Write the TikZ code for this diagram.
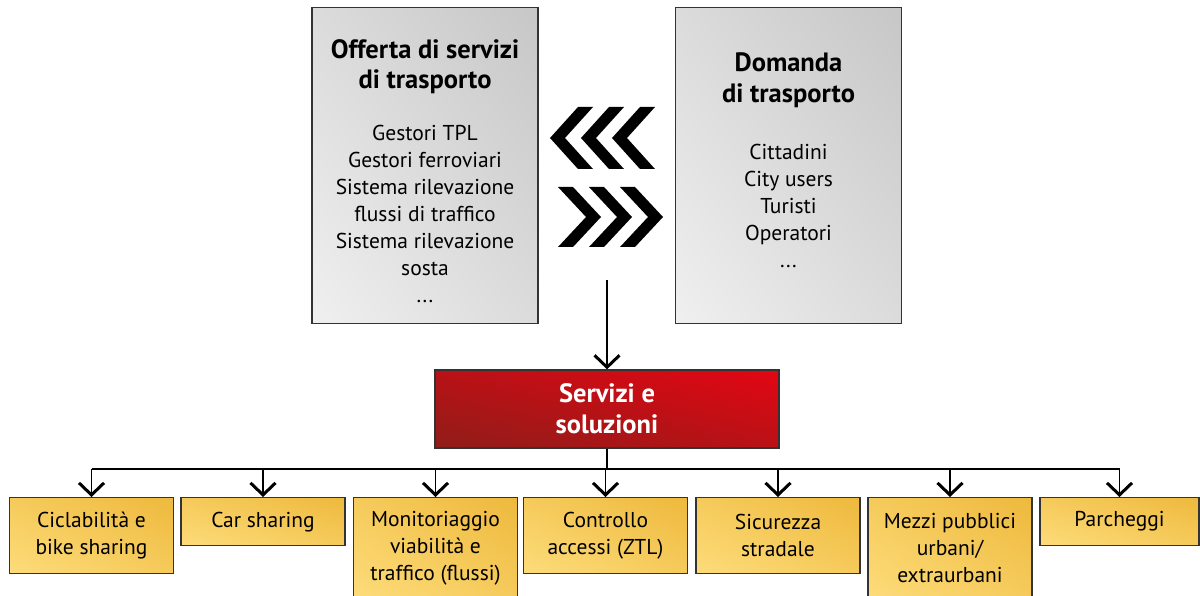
\documentclass[tikz,border=0pt]{standalone}
\usepackage{fontspec}
\setmainfont{PT Sans}
\usetikzlibrary{arrows.meta,shadings}
\definecolor{redlo}{HTML}{8F1D19}
\definecolor{redhi}{HTML}{E30613}
\definecolor{yello}{HTML}{FDDC7A}
\definecolor{yelhi}{HTML}{EEB93D}
\newcommand{\boxtitle}{\fontsize{26.5}{29}\selectfont\bfseries}
\newcommand{\boxbody}{\fontsize{21.5}{27}\selectfont\mdseries}

\begin{document}
\begin{tikzpicture}[x=1pt,y=-1pt,
    every node/.style={align=center,font=\boxbody,inner sep=0pt},
    greybox/.style={draw=black!80,line width=1.3pt,lower left=black!6,upper right=black!22,
        upper left=black!14,lower right=black!14,minimum width=226pt,minimum height=316pt},
    redbox/.style={draw=black!80,line width=1.3pt,lower left=redlo,upper right=redhi,
        upper left=redlo!50!redhi,lower right=redlo!50!redhi,minimum width=344pt,minimum height=78pt,
        text=white,font=\fontsize{26.5}{31}\selectfont\bfseries},
    ybox/.style={draw=black!80,line width=1.3pt,lower left=yello,upper right=yelhi,
        upper left=yello!50!yelhi,lower right=yello!50!yelhi,minimum width=164pt,anchor=north},
    conn/.style={line width=1.3pt},
    arr/.style={conn,-{Straight Barb[length=12pt,width=25pt,line width=3pt]}}]
    \useasboundingbox (0,0) rectangle (1200,596);

    \node[greybox] (offerta) at (425,165.5) {\boxtitle\rule{0pt}{31pt}Offerta di servizi\\[3pt]\boxtitle di trasporto\\[25pt]
        Gestori TPL\\Gestori ferroviari\\Sistema rilevazione\\flussi di traffico\\Sistema rilevazione\\sosta\\...};
    \node[greybox] (domanda) at (788.5,165.5) {\boxtitle Domanda\\[4pt]\boxtitle di trasporto\\[30pt]
        Cittadini\\City users\\Turisti\\Operatori\\...\rule[-10pt]{0pt}{0pt}};

    \foreach \i in {0,1,2} {
        \fill ({550+31*\i},138) -- ++(28,-31) -- ++(15,0) -- ++(-28,31) -- ++(28,31) -- ++(-15,0) -- cycle;
        \fill ({601+31*\i},217) -- ++(-28,-30) -- ++(-15,0) -- ++(28,30) -- ++(-28,30) -- ++(15,0) -- cycle;
    }

    \node[redbox] (sol) at (607,409) {Servizi e\\soluzioni};
    \coordinate (src) at (607,280);
    \draw[arr] (src) -- (sol.north);

    \node[ybox,minimum height=76pt] (cicl) at (91.5,497) {Ciclabilità e\\bike sharing};
    \node[ybox,minimum height=48pt] (car) at (263,497) {Car sharing};
    \node[ybox,minimum height=101pt] (moni) at (435.5,497) {Monitoriaggio\\viabilità e\\traffico (flussi)};
    \node[ybox,minimum height=76pt] (ztl) at (605.5,497) {Controllo\\accessi (ZTL)};
    \node[ybox,minimum height=76pt] (sicur) at (778,497) {Sicurezza\\stradale};
    \node[ybox,minimum height=101pt] (mezzi) at (950,497) {Mezzi pubblici\\urbani/\\extraurbani};
    \node[ybox,minimum height=48pt,minimum width=159pt] (parch) at (1119.5,497) {Parcheggi};

    \coordinate (hub) at (607,469);
    \draw[conn] (sol.south) -- (sol.south |- hub);
    \draw[conn] (hub -| cicl.north) -- (hub -| parch.north);
    \foreach \b in {cicl,car,moni,ztl,sicur,mezzi,parch}
        \draw[arr] (hub -| \b.north) -- (\b.north);
\end{tikzpicture}
\end{document}
